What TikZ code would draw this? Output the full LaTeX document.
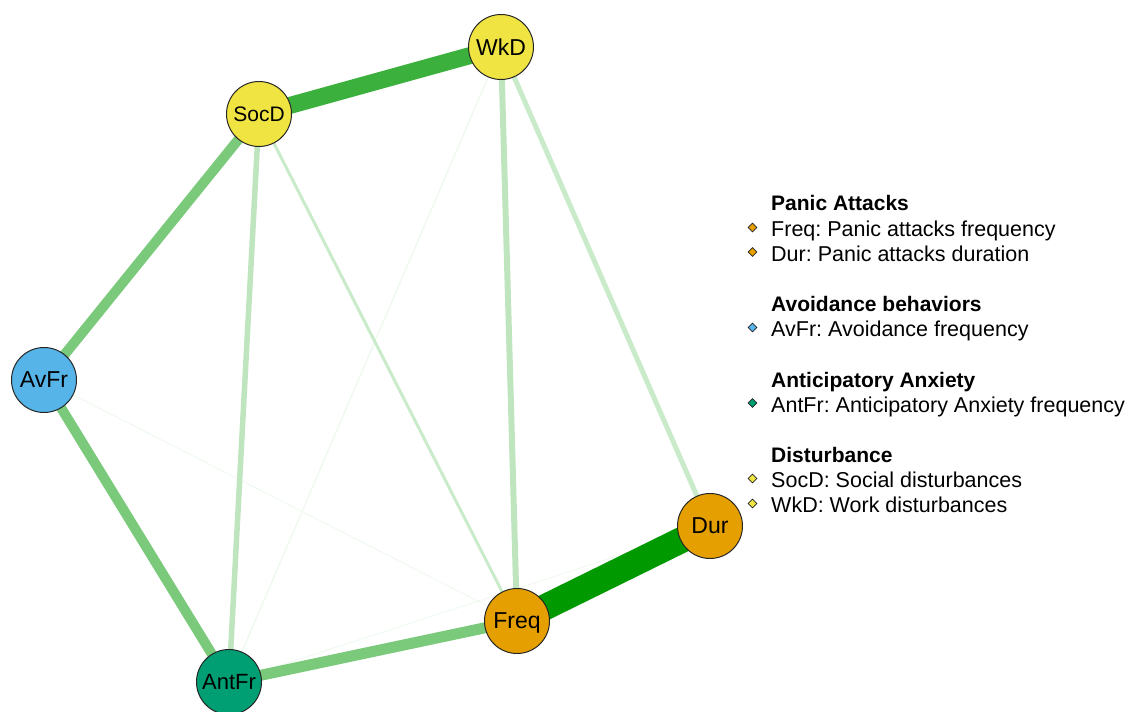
\documentclass[tikz,border=0pt]{standalone}
\usepackage{fontspec}
\setmainfont{Liberation Sans}
\usetikzlibrary{shapes.geometric,backgrounds}
\frenchspacing

\definecolor{panic}{HTML}{E69F00}
\definecolor{avoid}{HTML}{56B4E9}
\definecolor{antic}{HTML}{009E73}
\definecolor{disturb}{HTML}{F0E442}
\definecolor{edgeA}{HTML}{009900}
\definecolor{edgeB}{HTML}{3CB03C}
\definecolor{edgeC}{HTML}{7BC97B}
\definecolor{edgeD}{HTML}{BEE5BE}
\definecolor{edgeE}{HTML}{CAEBCA}
\definecolor{edgeF}{HTML}{EFF9EF}

\tikzset{
  var/.style={circle, draw=black!85, line width=1pt, minimum size=65pt, inner sep=0pt, text depth=0pt, font=\fontsize{23}{23}\selectfont},
  dot/.style={diamond, draw=black!85, line width=0.7pt, minimum size=9pt, inner sep=0pt},
  heading/.style={anchor=base west, inner sep=0pt, font=\fontsize{21}{21}\selectfont\bfseries},
  entry/.style={anchor=base west, inner sep=0pt, font=\fontsize{21.5}{21.5}\selectfont}
}

\begin{document}
\begin{tikzpicture}[x=1pt,y=-1pt]
\useasboundingbox (0,0) rectangle (1136,712);
% variables
\node [var, fill=disturb] (WkD) at (501,47) {WkD};
\node [var, fill=disturb, font=\fontsize{21}{21}\selectfont] (SocD) at (259,114) {SocD};
\node [var, fill=avoid] (AvFr) at (44,380) {AvFr};
\node [var, fill=antic, font=\fontsize{22}{22}\selectfont] (AntFr) at (229,682) {AntFr};
\node [var, fill=panic] (Freq) at (517,621) {Freq};
\node [var, fill=panic] (Dur) at (710,526) {Dur};
% edges, under the nodes
\begin{pgfonlayer}{background}
\draw [edgeF, line width=1pt] (AvFr.center) -- (Freq.center);
\draw [edgeF, line width=1pt] (AntFr.center) -- (Dur.center);
\draw [edgeF, line width=1.5pt] (WkD.center) -- (AntFr.center);
\draw [edgeE, line width=3pt] (SocD.center) -- (Freq.center);
\draw [edgeE, line width=5pt] (WkD.center) -- (Dur.center);
\draw [edgeD, line width=5.5pt] (SocD.center) -- (AntFr.center);
\draw [edgeD, line width=6pt] (WkD.center) -- (Freq.center);
\draw [edgeC, line width=10pt] (SocD.center) -- (AvFr.center);
\draw [edgeC, line width=10pt] (AvFr.center) -- (AntFr.center);
\draw [edgeC, line width=11pt] (AntFr.center) -- (Freq.center);
\draw [edgeB, line width=17pt] (SocD.center) -- (WkD.center);
\draw [edgeA, line width=26pt] (Freq.center) -- (Dur.center);
\end{pgfonlayer}
% legend
\node [heading] (hPanic) at (771,210) {Panic Attacks};
\node [dot, fill=panic] (dFreq) at (752.5,227.5) {};
\node [entry] (lFreq) at (771,236.5) {Freq: Panic attacks frequency};
\node [dot, fill=panic] (dDur) at (752.5,252) {};
\node [entry] (lDur) at (771,261) {Dur: Panic attacks duration};
\node [heading] (hAvoid) at (771,311.5) {Avoidance behaviors};
\node [dot, fill=avoid] (dAvFr) at (752.5,327.5) {};
\node [entry] (lAvFr) at (771,336.5) {AvFr: Avoidance frequency};
\node [heading] (hAntic) at (771,387.5) {Anticipatory Anxiety};
\node [dot, fill=antic] (dAntFr) at (752.5,403) {};
\node [entry] (lAntFr) at (771,412) {AntFr: Anticipatory Anxiety frequency};
\node [heading] (hDist) at (771,462.5) {Disturbance};
\node [dot, fill=disturb] (dSocD) at (752.5,478.5) {};
\node [entry] (lSocD) at (771,487.5) {SocD: Social disturbances};
\node [dot, fill=disturb] (dWkD) at (752.5,503.5) {};
\node [entry] (lWkD) at (771,512.5) {WkD: Work disturbances};
\end{tikzpicture}
\end{document}
